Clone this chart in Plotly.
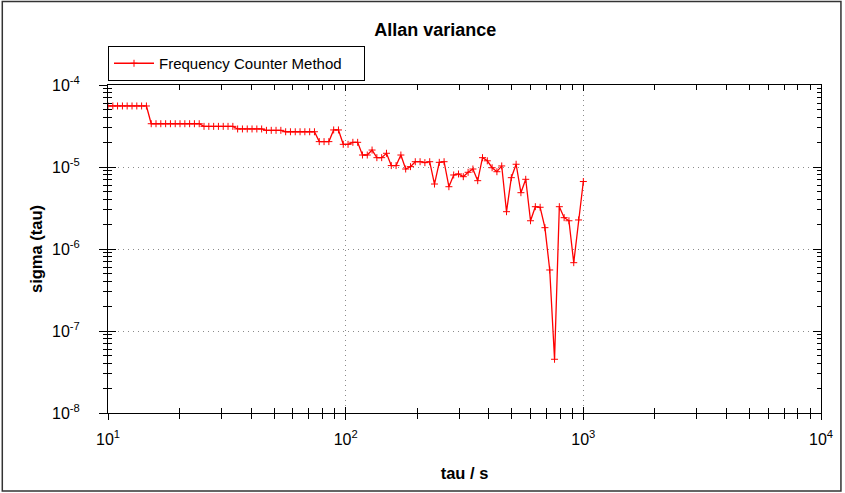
import plotly.graph_objects as go

# ---- data ----
tau = [10.00, 10.48, 10.97, 11.50, 12.04, 12.62, 13.22, 13.85, 14.51, 15.20,
       15.92, 16.68, 17.48, 18.31, 19.18, 20.09, 21.05, 22.05, 23.10, 24.20,
       25.35, 26.56, 27.83, 29.15, 30.54, 31.99, 33.52, 35.11, 36.78, 38.54,
       40.37, 42.29, 44.31, 46.42, 48.63, 50.94, 53.37, 55.91, 58.57, 61.36,
       64.28, 67.34, 70.55, 73.91, 77.43, 81.11, 84.98, 89.02, 93.26, 97.70,
       102.35, 107.23, 112.33, 117.68, 123.28, 129.15, 135.30, 141.75, 148.49, 155.56,
       162.97, 170.73, 178.86, 187.38, 196.30, 205.65, 215.44, 225.70, 236.45, 247.71,
       259.50, 271.86, 284.81, 298.37, 312.58, 327.46, 343.06, 359.39, 376.51, 394.44,
       413.22, 432.90, 453.51, 475.11, 497.74, 521.44, 546.27, 572.28, 599.53, 628.08,
       657.99, 689.32, 722.15, 756.54, 792.57, 830.31, 869.85, 911.28, 954.67, 1000.0]

sigma = [5.55e-5, 5.55e-5, 5.55e-5, 5.55e-5, 5.55e-5, 5.55e-5, 5.55e-5, 5.55e-5, 5.55e-5,
         3.37e-5, 3.37e-5, 3.37e-5, 3.37e-5, 3.37e-5, 3.37e-5, 3.37e-5, 3.37e-5, 3.37e-5, 3.37e-5, 3.37e-5,
         3.13e-5, 3.13e-5, 3.13e-5, 3.13e-5, 3.13e-5, 3.13e-5, 3.13e-5,
         2.91e-5, 2.91e-5, 2.91e-5, 2.91e-5, 2.91e-5, 2.91e-5,
         2.80e-5, 2.80e-5, 2.80e-5, 2.80e-5,
         2.69e-5, 2.69e-5, 2.69e-5, 2.69e-5, 2.69e-5, 2.69e-5, 2.69e-5,
         2.04e-5, 2.04e-5, 2.04e-5,
         2.83e-5, 2.83e-5,
         1.89e-5, 1.89e-5, 2.00e-5, 2.00e-5, 1.40e-5, 1.40e-5, 1.61e-5, 1.30e-5, 1.30e-5, 1.47e-5,
         1.04e-5, 1.04e-5, 1.40e-5, 9.45e-6, 1.01e-5, 1.16e-5, 1.16e-5, 1.13e-5, 1.16e-5, 6.20e-6,
         1.14e-5, 1.16e-5, 5.75e-6, 7.99e-6, 8.22e-6, 7.62e-6, 8.62e-6, 9.45e-6, 6.81e-6, 1.30e-5,
         1.19e-5, 9.80e-6, 8.76e-6, 1.03e-5, 2.85e-6, 7.41e-6, 1.08e-5, 4.86e-6, 7.08e-6, 2.21e-6,
         3.28e-6, 3.23e-6, 1.82e-6, 5.55e-7, 4.52e-8, 3.28e-6, 2.41e-6, 2.21e-6, 6.81e-7, 2.26e-6,
         6.65e-6]

series_name = "Frequency Counter Method"
x_major = [10, 100, 1000, 10000]
x_major_text = ["10<sup>1</sup>", "10<sup>2</sup>", "10<sup>3</sup>", "10<sup>4</sup>"]
y_major = [1e-8, 1e-7, 1e-6, 1e-5, 1e-4]
y_major_text = ["10<sup>-8</sup>", "10<sup>-7</sup>", "10<sup>-6</sup>", "10<sup>-5</sup>", "10<sup>-4</sup>"]

x_minor = [m * 10 ** e for e in (1, 2, 3) for m in range(2, 10)]
y_minor = [m * 10.0 ** e for e in (-8, -7, -6, -5) for m in range(2, 10)]

FONT = "Liberation Sans, Arial, sans-serif"
GRID = dict(showgrid=True, gridcolor="#8c8c8c", griddash="1px,4px", gridwidth=1)

fig = go.Figure()
fig.add_trace(go.Scatter(
    x=tau, y=sigma, name=series_name, mode="lines+markers",
    line=dict(color="#ff0000", width=1.3),
    marker=dict(symbol="cross-thin", size=5, line=dict(color="#ff0000", width=1)),
))
# invisible trace to host the outward-tick overlay axes
fig.add_trace(go.Scatter(x=[10], y=[1e-5], xaxis="x2", yaxis="y2", mode="markers",
                         marker=dict(opacity=0), showlegend=False, hoverinfo="skip"))

common = dict(type="log", linecolor="black", linewidth=1, tickcolor="black",
              tickfont=dict(family=FONT, size=16, color="black"))

fig.update_layout(
    width=845, height=493,
    margin=dict(l=108, r=22, t=85, b=80),
    paper_bgcolor="white", plot_bgcolor="white",
    font=dict(family=FONT, color="black"),
    title=dict(text="<b>Allan variance</b>", x=0.515, xanchor="center",
               y=0.939, yanchor="middle", font=dict(size=18, family=FONT)),
    showlegend=True,
    legend=dict(x=0, xanchor="left", y=1.0655, yanchor="middle", orientation="h",
                bordercolor="black", borderwidth=1, bgcolor="white",
                font=dict(size=15, family=FONT), entrywidth=200,
                tracegroupgap=0, itemwidth=40),
    xaxis=dict(**common, range=[1, 4], showline=True, mirror="allticks",
               ticks="inside", ticklen=6,
               tickmode="array", tickvals=x_major, ticktext=x_major_text,
               ticklabelstandoff=12,
               **GRID,
               minor=dict(tickmode="array", tickvals=x_minor, ticks="inside",
                          ticklen=5, tickcolor="black", showgrid=False),
               zeroline=False,
               title=dict(text="<b>tau / s</b>", font=dict(size=16.5, family=FONT), standoff=20)),
    yaxis=dict(**common, range=[-8, -4], showline=True, mirror="allticks",
               ticks="inside", ticklen=8,
               tickmode="array", tickvals=y_major, ticktext=y_major_text,
               ticklabelstandoff=24,
               **GRID,
               minor=dict(tickmode="array", tickvals=y_minor, ticks="inside",
                          ticklen=4, tickcolor="black", showgrid=False),
               zeroline=False,
               title=dict(text="<b>sigma (tau)</b>", font=dict(size=16.5, family=FONT), standoff=5)),
    xaxis2=dict(type="log", range=[1, 4], overlaying="x", anchor="y2", side="bottom",
                showline=False, showgrid=False, zeroline=False, showticklabels=False,
                ticks="outside", ticklen=6, tickcolor="black",
                tickmode="array", tickvals=x_major,
                minor=dict(tickmode="array", tickvals=x_minor, ticks="outside",
                           ticklen=5, tickcolor="black", showgrid=False)),
    yaxis2=dict(type="log", range=[-8, -4], overlaying="y", anchor="x2", side="left",
                showline=False, showgrid=False, zeroline=False, showticklabels=False,
                ticks="outside", ticklen=8, tickcolor="black",
                tickmode="array", tickvals=y_major,
                minor=dict(tickmode="array", tickvals=y_minor, ticks="outside",
                           ticklen=4, tickcolor="black", showgrid=False)),
)

# window frame around the whole picture
fig.add_shape(type="rect", xref="paper", yref="paper",
              x0=(2 - 108) / 715, x1=(843 - 108) / 715,
              y0=(413 - 491) / 328, y1=(413 - 1.5) / 328,
              line=dict(color="#333333", width=1.5), fillcolor="rgba(0,0,0,0)", layer="below")

fig.write_html("out.html")
